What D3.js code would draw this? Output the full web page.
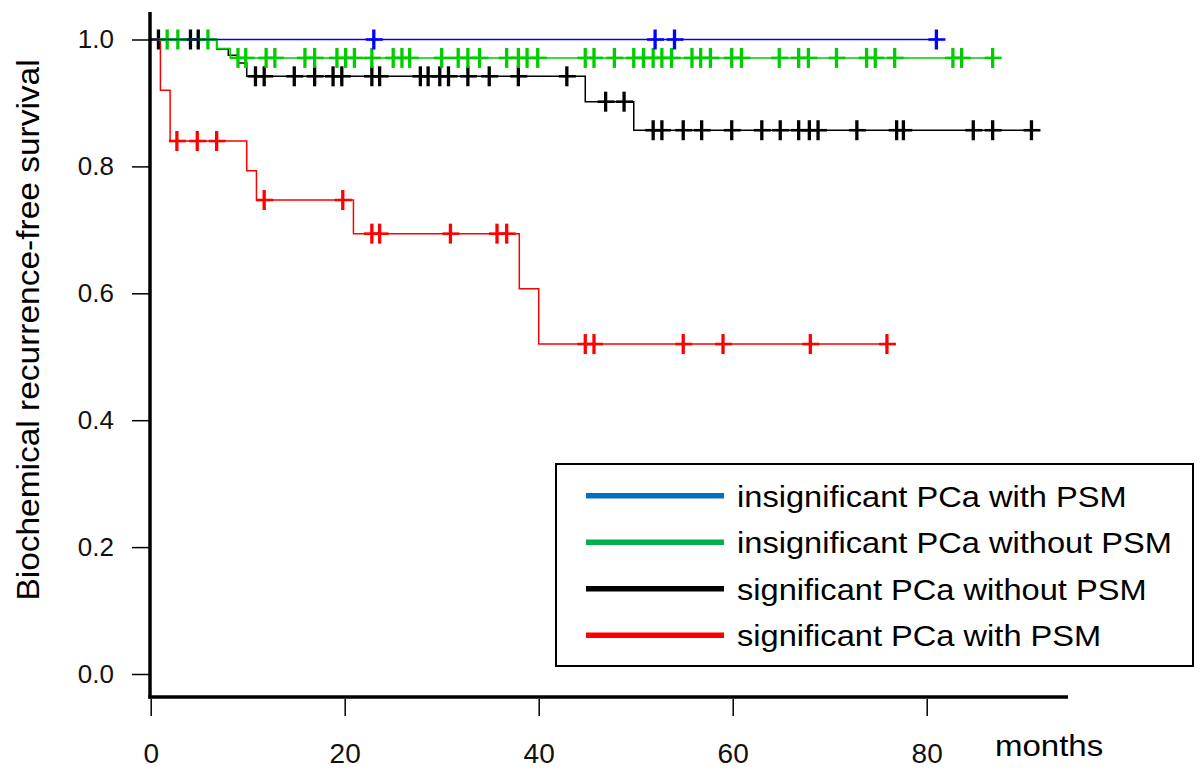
<!DOCTYPE html>
<html>
<head>
<meta charset="utf-8">
<script src="https://cdn.jsdelivr.net/npm/d3@7"></script>
<style>
  html, body { margin: 0; padding: 0; background: #fff; }
  svg { display: block; font-family: "Liberation Sans", Arial, sans-serif; }
</style>
</head>
<body>
<svg id="chart" width="1200" height="772"></svg>
<script>
// ---- data (months / survival proportion) ----
const xTicks = [0, 20, 40, 60, 80];
const yTicks = [0.0, 0.2, 0.4, 0.6, 0.8, 1.0];

const seriesNames = [
  "insignificant PCa with PSM",
  "insignificant PCa without PSM",
  "significant PCa without PSM",
  "significant PCa with PSM"
];

// insignificant PCa with PSM (blue)
const blueEventTimes = [];
const blueEventSurv = [];
const blueCensor = [23, 52, 54, 81];

// insignificant PCa without PSM (green)
const greenEventTimes = [6.8, 8.2];
const greenEventSurv = [0.986, 0.971];
const greenCensor = [1.7, 2.8, 5.9, 9.0, 9.8, 11.9, 12.8, 15.9, 16.9, 19.2, 20.1, 21.0, 22.8,
  25.0, 25.9, 26.7, 30.0, 31.7, 32.7, 33.9, 36.7, 37.9, 38.8, 39.9, 44.8, 45.7, 47.8,
  49.8, 50.8, 51.8, 52.7, 53.7, 55.8, 56.7, 57.7, 59.9, 60.9, 64.8, 66.8, 67.8, 70.7,
  73.8, 74.7, 76.7, 82.7, 83.6, 86.8];

// significant PCa without PSM (black)
const blackEventTimes = [6.8, 8.0, 9.0, 9.9, 44.8, 49.8];
const blackEventSurv = [0.985, 0.975, 0.963, 0.942, 0.902, 0.857];
const blackCensor = [0.8, 4.1, 4.9, 10.8, 11.7, 14.8, 16.9, 18.8, 19.7, 22.8, 23.6, 27.8,
  28.6, 29.8, 30.7, 32.7, 34.9, 37.9, 42.9, 46.9, 48.8, 51.8, 52.7, 54.9, 56.8, 59.9,
  63.0, 64.9, 66.8, 67.9, 68.8, 72.8, 76.9, 77.6, 84.8, 86.8, 90.8];

// significant PCa with PSM (red)
const redEventTimes = [1.0, 2.0, 9.9, 10.9, 20.9, 38.0, 40.0];
const redEventSurv = [0.92, 0.84, 0.793, 0.747, 0.694, 0.607, 0.520];
const redCensor = [2.7, 4.8, 6.8, 11.7, 19.8, 22.8, 23.6, 30.9, 35.7, 36.7, 44.8, 45.7,
  54.9, 59.0, 68.0, 75.9];

// ---- layout ----
const svg = d3.select("#chart");
const x = d3.scaleLinear().domain([0, 80]).range([150.7, 926.7]);
const y = d3.scaleLinear().domain([0, 1]).range([674, 39.5]);

const series = [
  { name: seriesNames[2], times: blackEventTimes, surv: blackEventSurv, cens: blackCensor, color: "#000000", legend: "#000000" },
  { name: seriesNames[3], times: redEventTimes, surv: redEventSurv, cens: redCensor, color: "#ff0000", legend: "#ff0000" },
  { name: seriesNames[1], times: greenEventTimes, surv: greenEventSurv, cens: greenCensor, color: "#00cc00", legend: "#00b050" },
  { name: seriesNames[0], times: blueEventTimes, surv: blueEventSurv, cens: blueCensor, color: "#0000ff", legend: "#0070c0" }
];

function survAt(s, t) {
  let v = 1;
  s.times.forEach((et, i) => { if (et <= t) v = s.surv[i]; });
  return v;
}

const line = d3.line().x(d => x(d[0])).y(d => y(d[1])).curve(d3.curveStepAfter);

series.forEach(s => {
  const end = d3.max([...s.cens, ...s.times]);
  const pts = [[0, 1]];
  s.times.forEach((t, i) => pts.push([t, s.surv[i]]));
  pts.push([end, survAt(s, end)]);
  svg.append("path").attr("d", line(pts)).attr("fill", "none")
    .attr("stroke", s.color).attr("stroke-width", 1.5);
  const g = svg.append("g");
  s.cens.forEach(t => {
    const cx = x(t), cy = y(survAt(s, t));
    g.append("line").attr("x1", cx).attr("x2", cx).attr("y1", cy - 10).attr("y2", cy + 10)
      .attr("stroke", s.color).attr("stroke-width", 3.3);
    g.append("line").attr("x1", cx - 8).attr("x2", cx + 9).attr("y1", cy).attr("y2", cy)
      .attr("stroke", s.color).attr("stroke-width", 2.6);
  });
});

// ---- axes ----
const yAxis = svg.append("g").attr("transform", "translate(150,0)")
  .call(d3.axisLeft(y).tickValues(yTicks).tickFormat(d3.format(".1f")).tickSize(18).tickPadding(18));
yAxis.select(".domain").remove();
yAxis.selectAll(".tick line").attr("stroke", "#000").attr("stroke-width", 1.5);
yAxis.selectAll(".tick text").attr("font-size", 26).attr("fill", "#111")
  .attr("font-family", "Liberation Sans, Arial, sans-serif");

const xAxis = svg.append("g").attr("transform", "translate(0,699)")
  .call(d3.axisBottom(x).tickValues(xTicks).tickFormat(d3.format("d")).tickSize(17).tickPadding(27));
xAxis.select(".domain").remove();
xAxis.selectAll(".tick line").attr("stroke", "#000").attr("stroke-width", 1.5);
xAxis.selectAll(".tick text").attr("font-size", 28).attr("fill", "#111")
  .attr("font-family", "Liberation Sans, Arial, sans-serif");

// axis lines
svg.append("line").attr("x1", 150).attr("x2", 150).attr("y1", 12).attr("y2", 698.5)
  .attr("stroke", "#000").attr("stroke-width", 3.5);
svg.append("line").attr("x1", 148.3).attr("x2", 1068).attr("y1", 697).attr("y2", 697)
  .attr("stroke", "#000").attr("stroke-width", 3.5);

svg.append("text").attr("transform", "translate(995,756) scale(1.1,1)")
  .attr("font-size", 30).attr("fill", "#000")
  .text("months");

svg.append("text").attr("transform", "translate(39,330) rotate(-90) scale(1.08,1)")
  .attr("text-anchor", "middle").attr("font-size", 31).attr("fill", "#000")
  .text("Biochemical recurrence-free survival");

// ---- legend ----
const legend = svg.append("g");
legend.append("rect").attr("x", 556).attr("y", 464).attr("width", 637).attr("height", 202)
  .attr("fill", "#fff").attr("stroke", "#000").attr("stroke-width", 2);
const legendOrder = [series[3], series[2], series[0], series[1]];
legendOrder.forEach((s, i) => {
  const cy = 495.7 + i * 46.5;
  legend.append("line").attr("x1", 586).attr("x2", 724).attr("y1", cy).attr("y2", cy)
    .attr("stroke", s.legend).attr("stroke-width", 5.5);
  legend.append("text").attr("transform", `translate(737,${cy + 11}) scale(1.087,1)`)
    .attr("font-size", 30).attr("fill", "#000").text(s.name);
});
</script>
</body>
</html>
